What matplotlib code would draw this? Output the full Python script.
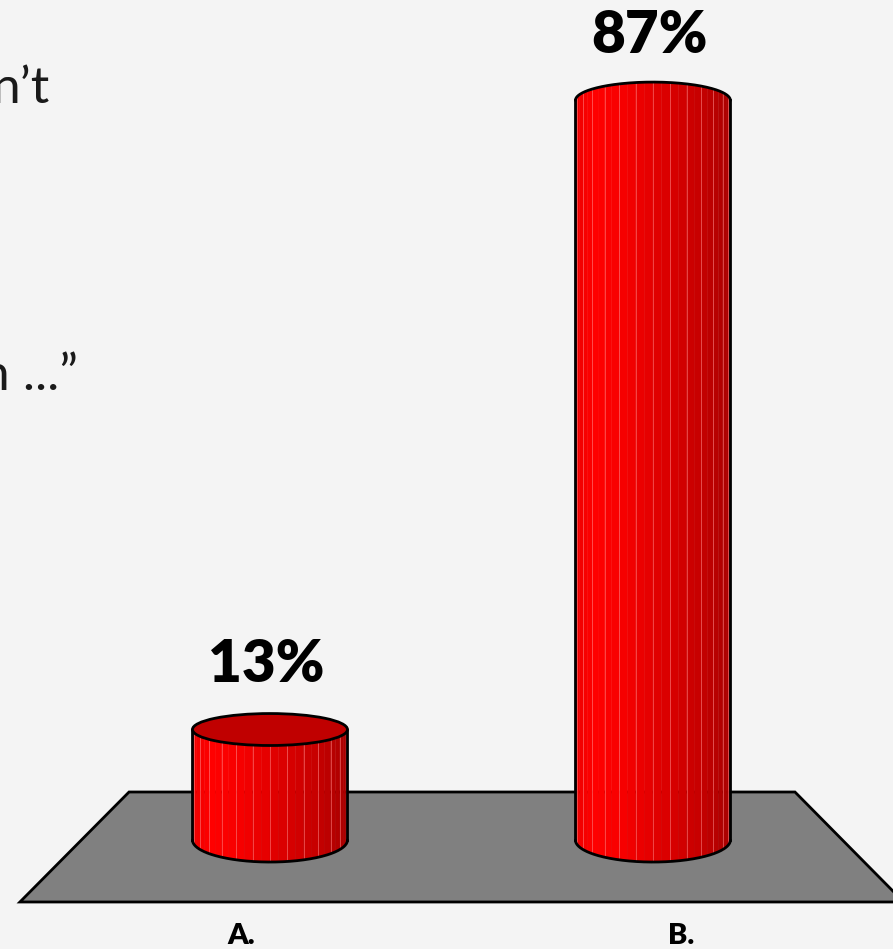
import numpy as np
import matplotlib.pyplot as plt
from matplotlib.patches import Polygon, Ellipse

# poll results
categories = ['A.', 'B.']
values = [13, 87]

bg = '#f4f4f4'
floor_grey = '#808080'
top_red = '#c00000'

# cylinder geometry (x in category units, y in percent)
radius = 0.2024
rim_b0 = 2.59      # half-height of the base rim ellipse
eye_level = 47.4   # rims above this are seen from below
n_strips = 28


def rim_half_height(level):
    return rim_b0 * (eye_level - level) / eye_level


def side_colour(t):
    red = np.interp(t, [0.0, 0.12, 0.3, 0.55, 0.8, 1.0],
                       [0.93, 1.0, 0.97, 0.87, 0.78, 0.66])
    return (red, 0.0, 0.0)


def draw_cylinder(ax, cx, height):
    theta = np.linspace(np.pi, 2 * np.pi, n_strips + 1)
    xs = cx + radius * np.cos(theta)
    b_bot = rim_half_height(0)
    b_top = rim_half_height(height)
    y_bot = b_bot * np.sin(theta)
    y_top = height + b_top * np.sin(theta)

    for i in range(n_strips):
        t = ((xs[i] + xs[i + 1]) / 2 - (cx - radius)) / (2 * radius)
        c = side_colour(t)
        strip = Polygon([(xs[i], y_bot[i]), (xs[i + 1], y_bot[i + 1]),
                         (xs[i + 1], y_top[i + 1]), (xs[i], y_top[i])],
                        closed=True, facecolor=c, edgecolor=c, lw=0.3, zorder=3)
        ax.add_patch(strip)
        if 0 < i and i % 2 == 0:
            ax.plot([xs[i], xs[i]], [y_bot[i], y_top[i]], color=(1, 0.5, 0.5),
                    lw=0.7, alpha=0.55, zorder=4)

    fine = np.linspace(np.pi, 2 * np.pi, 200)
    fx = cx + radius * np.cos(fine)
    ax.plot(fx, b_bot * np.sin(fine), color='black', lw=2, zorder=5,
            solid_capstyle='round')
    ax.plot([cx - radius, cx - radius], [0, height], color='black', lw=2, zorder=5)
    ax.plot([cx + radius, cx + radius], [0, height], color='black', lw=2, zorder=5)
    if b_top > 0:
        ax.add_patch(Ellipse((cx, height), 2 * radius, 2 * b_top,
                             facecolor=top_red, edgecolor='black', lw=2, zorder=5))
    else:
        ax.plot(fx, height + b_top * np.sin(fine), color='black', lw=2, zorder=5,
                solid_capstyle='round')


fig = plt.figure(figsize=(8.93, 9.49), dpi=100)
fig.patch.set_facecolor(bg)
ax = fig.add_axes([0, 0, 1, 1])
ax.set_facecolor(bg)
ax.set_xlim(-0.705, 1.627)
ax.set_ylim(-12.82, 98.82)
ax.axis('off')

# floor
floor = Polygon([(-0.368, 5.65), (1.371, 5.65), (1.655, -7.29), (-0.653, -7.29)],
                closed=True, facecolor=floor_grey, edgecolor='black', lw=2,
                joinstyle='miter', zorder=1)
ax.add_patch(floor)

for i, (cat, v) in enumerate(zip(categories, values)):
    draw_cylinder(ax, i, v)
    ax.text(i - 0.01, v + 5.6, f'{v}%', ha='center', va='baseline', fontsize=42,
            fontweight='heavy', family='Lato', color='black', zorder=6)
    # category labels spread outwards with the floor's perspective
    ax.text(i + (i - 0.5) * 0.15, -12.25, cat, ha='center', va='baseline',
            fontsize=21, fontweight='heavy', family='Lato', color='black')

# title text running in from the left
fig.text(50 / 893, 1 - 103 / 949, 'n\u2019t', ha='right', va='baseline',
         fontsize=37, family='Lato', color='#1a1a1a')
fig.text(78 / 893, 1 - 390 / 949, 'n ...\u201d', ha='right', va='baseline',
         fontsize=37, family='Lato', color='#1a1a1a')

fig.savefig('out.png', dpi=100, facecolor=bg)
